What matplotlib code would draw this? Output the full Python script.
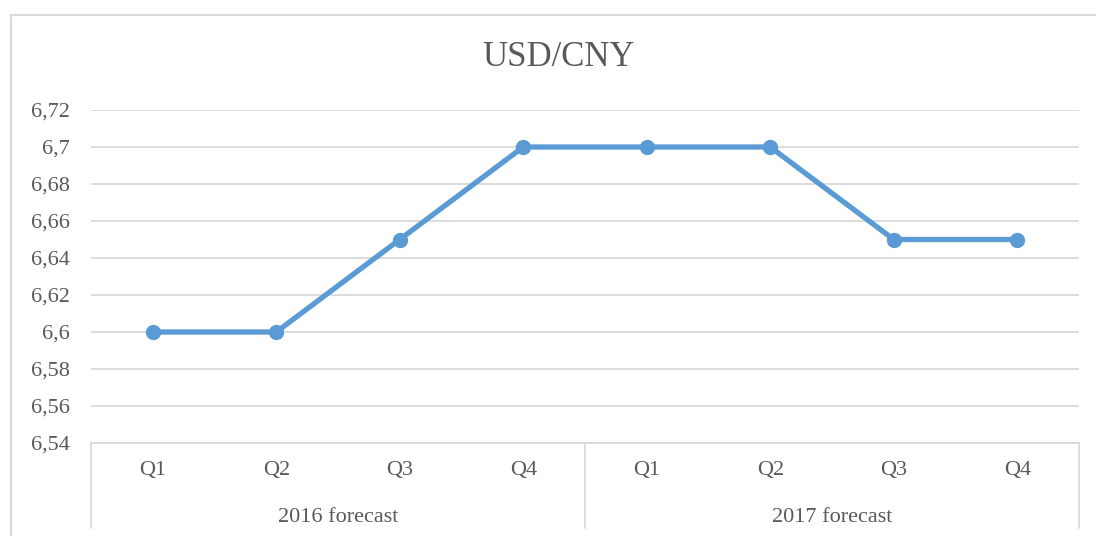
import matplotlib.pyplot as plt
from matplotlib.patches import Rectangle
from matplotlib.ticker import FuncFormatter

plt.rcParams['font.family'] = ['Liberation Serif', 'DejaVu Serif']

quarters = ['Q1', 'Q2', 'Q3', 'Q4', 'Q1', 'Q2', 'Q3', 'Q4']
groups = ['2016 forecast', '2017 forecast']
rate = [6.60, 6.60, 6.65, 6.70, 6.70, 6.70, 6.65, 6.65]
yticks = [6.54, 6.56, 6.58, 6.60, 6.62, 6.64, 6.66, 6.68, 6.70, 6.72]

line_color = '#5B9BD5'
text_color = '#595959'
grid_color = '#D9D9D9'

W, H = 1096, 536
fig = plt.figure(figsize=(W / 100, H / 100), dpi=100, facecolor='white')

# outer chart border (cut off at right/bottom like the screenshot)
fig.patches.append(Rectangle((11 / W, -0.1), 1.2, 1.1 - 15 / H, transform=fig.transFigure,
                             fill=False, edgecolor=grid_color, linewidth=1.5, zorder=0))

left, right, top, bottom = 91, 1079, 110, 443
ax = fig.add_axes([left / W, 1 - bottom / H, (right - left) / W, (bottom - top) / H])

x = list(range(len(rate)))
ax.plot(x, rate, '-o', color=line_color, linewidth=3.8, markersize=10, zorder=3)

ax.set_xlim(-0.5, len(rate) - 0.5)
ax.set_ylim(6.54, 6.72)
ax.set_yticks(yticks)
ax.yaxis.set_major_formatter(FuncFormatter(lambda v, p: ('%g' % round(v, 2)).replace('.', ',')))
ax.grid(axis='y', color=grid_color, linewidth=1.3)
ax.set_axisbelow(True)
for s in ['top', 'right', 'left']:
    ax.spines[s].set_visible(False)
ax.spines['bottom'].set_color(grid_color)
ax.spines['bottom'].set_linewidth(1.3)
ax.tick_params(axis='y', length=0, pad=15, labelsize=16, labelcolor=text_color)
ax.set_xticks([])

# multi-level category axis
for i, q in enumerate(quarters):
    ax.annotate(q, xy=(i, 0), xycoords=('data', 'axes fraction'), xytext=(0, -19.5),
                textcoords='offset points', ha='center', va='center',
                fontsize=16, color=text_color)
n = len(quarters) // len(groups)
for g, name in enumerate(groups):
    ax.annotate(name, xy=(g * n + (n - 1) / 2, 0), xycoords=('data', 'axes fraction'),
                xytext=(0, -53.5), textcoords='offset points', ha='center', va='center',
                fontsize=16, color=text_color)
for b in range(len(groups) + 1):
    ax.annotate('', xy=(b * n - 0.5, 0), xycoords=('data', 'axes fraction'),
                xytext=(b * n - 0.5, -85 / (bottom - top)), textcoords=('data', 'axes fraction'),
                arrowprops=dict(arrowstyle='-', color=grid_color, linewidth=1.3,
                                shrinkA=0, shrinkB=0))

fig.text(558 / W, 1 - 58 / H, 'USD/CNY', ha='center', va='center', fontsize=25, color=text_color)

fig.savefig('out.png', dpi=100, facecolor='white')
